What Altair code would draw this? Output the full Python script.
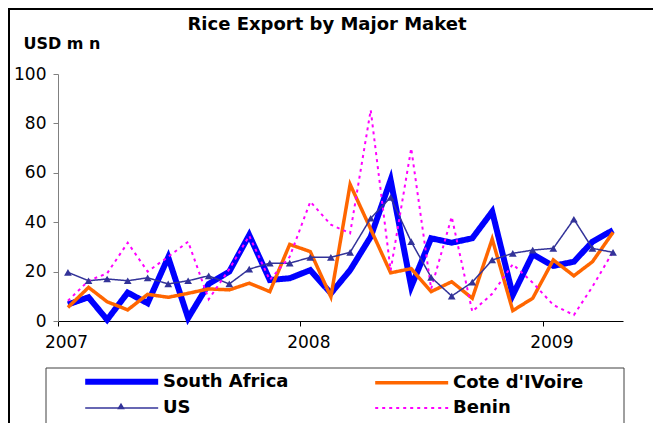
import altair as alt
import pandas as pd

months = ["2007-01", "2007-02", "2007-03", "2007-04", "2007-05", "2007-06",
          "2007-07", "2007-08", "2007-09", "2007-10", "2007-11", "2007-12",
          "2008-01", "2008-02", "2008-03", "2008-04", "2008-05", "2008-06",
          "2008-07", "2008-08", "2008-09", "2008-10", "2008-11", "2008-12",
          "2009-01", "2009-02", "2009-03", "2009-04"]

south_africa = [6.7, 9.6, 0.5, 11.5, 7.2, 25.8, 1.2, 15.0, 20.0, 34.8, 16.6, 17.3,
                20.6, 11.2, 20.6, 34.1, 57.1, 13.9, 33.5, 31.7, 33.5, 44.3, 10.5, 27.0,
                22.3, 24.0, 32.1, 36.8]
cote_divoire = [5.5, 13.6, 7.8, 4.5, 10.8, 9.6, 11.2, 13.0, 12.6, 15.3, 11.9, 31.0,
                28.1, 9.8, 55.3, 37.2, 19.5, 21.2, 11.9, 15.9, 9.2, 33.2, 4.2, 9.2,
                24.7, 18.3, 24.0, 35.9]
us = [19.7, 16.3, 17.0, 16.3, 17.5, 15.0, 16.3, 18.3, 15.0, 21.0, 23.4, 23.4,
      25.8, 25.8, 27.8, 41.6, 50.0, 32.1, 17.7, 10.1, 15.7, 24.7, 27.4, 28.7,
      29.4, 41.2, 29.4, 27.8]
benin = [8.2, 16.3, 19.3, 31.7, 20.0, 26.0, 32.1, 8.8, 21.0, 34.5, 16.6, 26.0,
         48.3, 39.0, 35.5, 85.4, 20.5, 69.9, 13.0, 42.2, 3.8, 11.0, 23.0, 15.5,
         6.5, 2.4, 13.9, 28.1]

series_names = ["South Africa", "Cote d'IVoire", "US", "Benin"]
series_colors = ["#0000FF", "#FF6600", "#333399", "#FF00FF"]
series_widths = [6, 3.5, 1.5, 2]
series_dashes = [[1, 0], [1, 0], [1, 0], [3, 4]]
y_ticks = [0, 20, 40, 60, 80, 100]
chart_title = "Rice Export by Major Maket"
y_title = "USD m n"

rows = []
for name, vals in zip(series_names, [south_africa, cote_divoire, us, benin]):
    for m, v in zip(months, vals):
        rows.append({"month": m + "-16", "series": name, "value": v})
df = pd.DataFrame(rows)

FONT = "DejaVu Sans"

x_enc = alt.X(
    "month:T",
    scale=alt.Scale(type="utc",
                    domain=[alt.DateTime(year=2007, month=1, date=1, utc=True),
                            alt.DateTime(year=2009, month=5, date=1, utc=True)]),
    axis=alt.Axis(values=[alt.DateTime(year=2007, month=1, date=1, utc=True),
                          alt.DateTime(year=2008, month=1, date=1, utc=True),
                          alt.DateTime(year=2009, month=1, date=1, utc=True)],
                  format="%Y", grid=False, domainColor="black", tickColor="black",
                  tickSize=5, labelFont=FONT, labelFontSize=17, labelColor="black",
                  labelPadding=8, labelOffset=8, labelFlush=False),
    title=None,
)
y_enc = alt.Y(
    "value:Q",
    scale=alt.Scale(domain=[0, 100], nice=False),
    axis=alt.Axis(values=y_ticks, grid=False, domainColor="#808080", tickColor="#808080",
                  tickSize=5, labelFont=FONT, labelFontSize=17, labelColor="black",
                  labelPadding=7, title=y_title, titleAngle=0, titleAlign="left",
                  titleBaseline="middle", titleX=-35, titleY=-31, titleFont=FONT,
                  titleFontSize=16, titleFontWeight="bold", titleColor="black"),
)

legend = alt.Legend(orient="none", legendX=24, legendY=297, columns=2, direction="horizontal",
                    symbolType="M-1,0H9", symbolSize=213, labelOffset=60,
                    columnPadding=79, rowPadding=5, labelFont=FONT, labelFontSize=18,
                    labelFontWeight="bold", labelColor="black", padding=0, labelLimit=300)

lines = alt.Chart(df).mark_line().encode(
    x=x_enc, y=y_enc,
    color=alt.Color("series:N", scale=alt.Scale(domain=series_names, range=series_colors),
                    legend=legend, title=None),
    strokeWidth=alt.StrokeWidth("series:N",
                                scale=alt.Scale(type="ordinal", domain=series_names, range=series_widths),
                                legend=legend, title=None),
    strokeDash=alt.StrokeDash("series:N", scale=alt.Scale(domain=series_names, range=series_dashes),
                              legend=legend, title=None),
)

pts = alt.Chart(df[df["series"] == "US"]).mark_point(
    shape="triangle-up", filled=True, size=60, color="#333399", opacity=1
).encode(x=x_enc, y=y_enc)

one = pd.DataFrame({"title": [chart_title]})
frame_top = alt.Chart(one).mark_rule(color="black", strokeWidth=2).encode(
    x=alt.value(-50), x2=alt.value(600), y=alt.value(-65))
frame_left = alt.Chart(one).mark_rule(color="black", strokeWidth=2).encode(
    x=alt.value(-49), y=alt.value(-66), y2=alt.value(370))
legend_box = alt.Chart(one).mark_rect(fillOpacity=0, stroke="#404040", strokeWidth=1).encode(
    x=alt.value(-12), x2=alt.value(566), y=alt.value(294), y2=alt.value(370))
legend_marker = alt.Chart(one).mark_point(
    shape="triangle-up", filled=True, size=60, color="#333399", opacity=1
).encode(x=alt.value(63), y=alt.value(332))
title_text = alt.Chart(one).mark_text(
    font=FONT, fontSize=18, fontWeight="bold", color="black", align="center", baseline="middle"
).encode(text="title:N", x=alt.value(269), y=alt.value(-49))

chart = alt.layer(frame_top, frame_left, legend_box, title_text, lines, pts, legend_marker).properties(
    width=565, height=247,
    autosize=alt.AutoSizeParams(type="none"),
    padding={"left": 50, "top": 66, "right": 30, "bottom": 102},
).configure_view(strokeWidth=0)

chart.save("out.html", embed_options={"renderer": "svg", "actions": False})
